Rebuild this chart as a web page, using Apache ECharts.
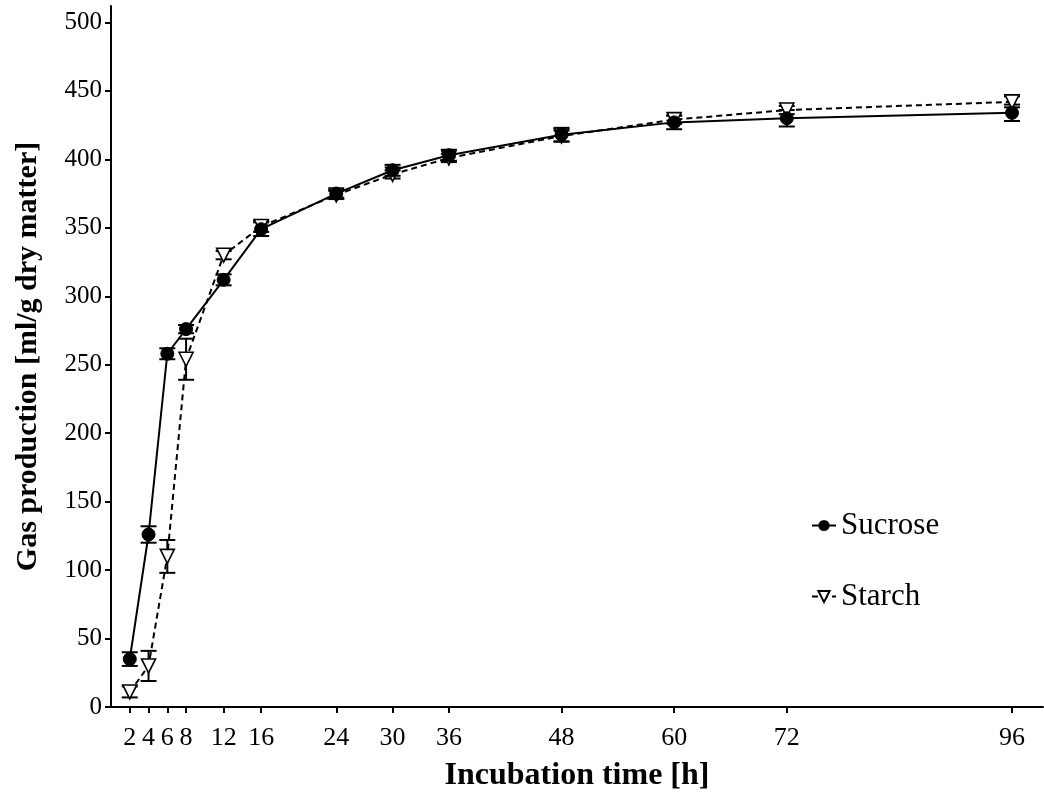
<!DOCTYPE html>
<html>
<head>
<meta charset="utf-8">
<script src="https://cdn.jsdelivr.net/npm/echarts@6/dist/echarts.min.js"></script>
<style>html,body{margin:0;padding:0;background:#fff}#c{width:1044px;height:802px}</style>
</head>
<body>
<div id="c"></div>
<script>
const hours = [2, 4, 6, 8, 12, 16, 24, 30, 36, 48, 60, 72, 96];
const sucrose = [35, 126, 258, 276, 312, 349, 375, 392, 403, 418, 427, 430, 434];
const sucroseErr = [5, 6, 4, 3, 4, 5, 3, 4, 4, 5, 5, 6, 6];
const starch = [11, 30, 110, 254, 330, 351, 374, 389, 401, 417, 429, 436, 442];
const starchErr = [4, 11, 12, 15, 3, 4, 3, 3, 3, 4, 3, 3, 4];
const yTicks = [0, 50, 100, 150, 200, 250, 300, 350, 400, 450, 500];

const font = '"Liberation Serif", "Times New Roman", serif';
const chart = echarts.init(document.getElementById('c'), null, {renderer: 'canvas'});

function pairs(ys) { return hours.map((h, i) => [h, ys[i]]); }
function errData(ys, es) { return hours.map((h, i) => [h, ys[i] - es[i], ys[i] + es[i]]); }
function errSeries(name, ys, es) {
  return {
    type: 'custom', name: name + ' err', silent: true, z: 1,
    data: errData(ys, es),
    renderItem: function (params, api) {
      const lo = api.coord([api.value(0), api.value(1)]);
      const hi = api.coord([api.value(0), api.value(2)]);
      const w = 8;
      const st = {stroke: '#000', lineWidth: 2};
      return {type: 'group', children: [
        {type: 'line', shape: {x1: lo[0], y1: lo[1], x2: hi[0], y2: hi[1]}, style: st},
        {type: 'line', shape: {x1: lo[0] - w, y1: lo[1], x2: lo[0] + w, y2: lo[1]}, style: st},
        {type: 'line', shape: {x1: hi[0] - w, y1: hi[1], x2: hi[0] + w, y2: hi[1]}, style: st}
      ]};
    }
  };
}

chart.setOption({
  animation: false,
  backgroundColor: '#fff',
  grid: {left: 111, right: 1, top: 6, bottom: 95, containLabel: false},
  legend: {
    orient: 'vertical', left: 806, top: 505, itemGap: 40,
    itemWidth: 24, itemHeight: 14,
    textStyle: {fontFamily: font, fontSize: 31, color: '#000'},
    data: ['Sucrose', 'Starch']
  },
  xAxis: {
    type: 'value', min: 0, max: 99.3,
    name: 'Incubation time [h]', nameLocation: 'middle', nameGap: 53,
    nameTextStyle: {fontFamily: font, fontSize: 32, fontWeight: 'bold', color: '#000'},
    axisLine: {show: true, onZero: false, lineStyle: {color: '#000', width: 2}},
    axisTick: {show: true, length: 6, lineStyle: {color: '#000', width: 2}, customValues: hours},
    axisLabel: {fontFamily: font, fontSize: 26, color: '#000', margin: 18, customValues: hours, showMinLabel: true, showMaxLabel: true},
    splitLine: {show: false}
  },
  yAxis: {
    type: 'value', min: 0, max: 512,
    name: 'Gas production [ml/g dry matter]', nameLocation: 'middle', nameGap: 68, nameRotate: 90,
    nameTextStyle: {fontFamily: font, fontSize: 30, fontWeight: 'bold', color: '#000'},
    axisLine: {show: true, onZero: false, lineStyle: {color: '#000', width: 2}},
    axisTick: {show: true, length: 6, lineStyle: {color: '#000', width: 2}, customValues: yTicks},
    axisLabel: {fontFamily: font, fontSize: 25, color: '#000', margin: 9, customValues: yTicks},
    splitLine: {show: false}
  },
  series: [
    errSeries('Sucrose', sucrose, sucroseErr),
    errSeries('Starch', starch, starchErr),
    {
      name: 'Starch', type: 'line', data: pairs(starch), z: 3,
      symbol: 'triangle', symbolRotate: 180, symbolSize: 14,
      lineStyle: {color: '#000', width: 2, type: [6, 4]},
      itemStyle: {color: '#fff', borderColor: '#000', borderWidth: 1.6}
    },
    {
      name: 'Sucrose', type: 'line', data: pairs(sucrose), z: 4,
      symbol: 'circle', symbolSize: 13,
      lineStyle: {color: '#000', width: 2},
      itemStyle: {color: '#000', borderColor: '#000'}
    }
  ]
});
</script>
</body>
</html>
